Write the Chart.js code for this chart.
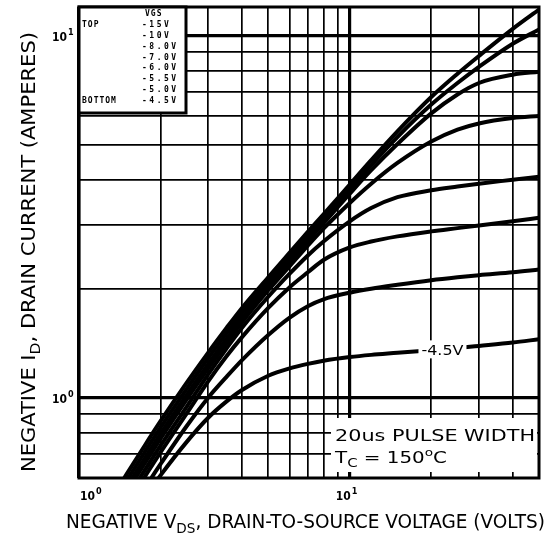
<!DOCTYPE html>
<html>
<head>
<meta charset="utf-8">
<script src="https://cdn.jsdelivr.net/npm/chart.js@4.4.1/dist/chart.umd.min.js"></script>
<style>
  html, body { margin: 0; padding: 0; background: #fff; }
  canvas { display: block; }
</style>
</head>
<body>
<canvas id="chart" width="551" height="538"></canvas>
<script>
// drain-to-source voltage (V), common grid for every curve
const vds = [1.3, 1.5, 1.75, 2, 2.5, 3, 3.5, 4, 5, 6, 7, 8, 10, 12, 15, 20, 25, 30, 40, 50];

// drain current (A), one array per gate voltage
const id15 = [0.518, 0.615, 0.738, 0.861, 1.10, 1.332, 1.555, 1.77, 2.15, 2.515, 2.87, 3.21, 3.88, 4.53, 5.44, 6.77, 7.85, 8.79, 10.44, 11.8];
const id10 = [0.497, 0.59, 0.708, 0.827, 1.058, 1.285, 1.503, 1.713, 2.087, 2.44, 2.785, 3.115, 3.765, 4.39, 5.25, 6.45, 7.4, 8.2, 9.5, 10.4];
const id8  = [0.478, 0.567, 0.68, 0.795, 1.018, 1.237, 1.452, 1.659, 2.03, 2.375, 2.71, 3.03, 3.66, 4.25, 5.02, 6.1, 6.88, 7.4, 7.8, 7.95];
const id7  = [0.462, 0.549, 0.659, 0.77, 0.99, 1.205, 1.413, 1.615, 1.98, 2.31, 2.63, 2.93, 3.45, 3.9, 4.45, 5.1, 5.5, 5.72, 5.92, 6.0];
const id6  = [0.443, 0.526, 0.631, 0.737, 0.945, 1.16, 1.365, 1.56, 1.9, 2.2, 2.47, 2.7, 3.07, 3.34, 3.58, 3.74, 3.83, 3.9, 4.0, 4.08];
const id55 = [0.425, 0.504, 0.605, 0.706, 0.905, 1.11, 1.3, 1.47, 1.77, 2.02, 2.22, 2.4, 2.6, 2.7, 2.79, 2.88, 2.94, 2.99, 3.07, 3.14];
const id5  = [0.395, 0.47, 0.563, 0.655, 0.835, 1.0, 1.14, 1.27, 1.49, 1.665, 1.79, 1.87, 1.95, 2.0, 2.05, 2.11, 2.15, 2.18, 2.22, 2.26];
const id45 = [0.38, 0.448, 0.53, 0.61, 0.755, 0.88, 0.975, 1.05, 1.15, 1.205, 1.24, 1.265, 1.295, 1.313, 1.33, 1.353, 1.372, 1.39, 1.42, 1.45];

const vgsLabels = ['-15V', '-10V', '-8.0V', '-7.0V', '-6.0V', '-5.5V', '-5.0V', '-4.5V'];
const series = [id15, id10, id8, id7, id6, id55, id5, id45];

const xTicks = [1, 2, 3, 4, 5, 6, 7, 8, 9, 10, 20, 30, 40, 50];
const yTicks = [0.6, 0.7, 0.8, 0.9, 1, 2, 3, 4, 5, 6, 7, 8, 9, 10, 12];
const xLabelTicks = [1, 10];
const yLabelTicks = [1, 10];

const FAM = '"DejaVu Sans Condensed", "DejaVu Sans", sans-serif';

// draws text pieces (with sub/superscripts) squeezed to a given width
function rich(ctx, parts, x, y, width, weight) {
  const pre = (weight || '') + ' ';
  let total = 0;
  const w = parts.map(p => {
    ctx.font = pre + p[1] + 'px ' + FAM;
    const m = ctx.measureText(p[0]).width;
    total += m;
    return m;
  });
  const k = width ? width / total : 1;
  ctx.save();
  ctx.translate(x, y);
  ctx.scale(k, 1);
  let cx = 0;
  parts.forEach((p, i) => {
    ctx.font = pre + p[1] + 'px ' + FAM;
    ctx.fillText(p[0], cx, p[2] || 0);
    cx += w[i];
  });
  ctx.restore();
  return total * k;
}

const decor = {
  id: 'decor',
  afterDatasetsDraw(chart) {
    const { ctx, chartArea: a, scales: { x, y } } = chart;
    ctx.save();
    ctx.fillStyle = '#000';
    ctx.strokeStyle = '#000';
    ctx.textBaseline = 'alphabetic';
    ctx.textAlign = 'left';

    // frame
    ctx.lineWidth = 3;
    ctx.strokeRect(a.left, a.top, a.right - a.left, a.bottom - a.top);

    // legend box
    const bw = 107, bh = 106;
    ctx.fillStyle = '#fff';
    ctx.fillRect(a.left, a.top, bw, bh);
    ctx.fillStyle = '#000';
    ctx.lineWidth = 3;
    ctx.strokeRect(a.left, a.top, bw, bh);
    ctx.font = 'bold 8px "DejaVu Sans Mono", monospace';
    ctx.letterSpacing = '1px';
    ctx.fillText('VGS', a.left + 66, a.top + 9);
    ctx.fillText('TOP', a.left + 3, a.top + 20);
    ctx.fillText('BOTTOM', a.left + 3, a.top + 96);
    ctx.letterSpacing = '2.5px';
    vgsLabels.forEach((t, i) => {
      ctx.fillText(t, a.left + 63, a.top + 20 + i * 10.85);
    });
    ctx.letterSpacing = '0px';

    // pulse width note
    ctx.fillStyle = '#fff';
    ctx.fillRect(331, 418, a.right - 333, a.bottom - 424);
    ctx.fillStyle = '#000';
    rich(ctx, [['20us PULSE WIDTH', 16]], 335, 441, 200);
    rich(ctx, [['T', 16], ['C', 12, 4], [' = 150', 16], ['o', 11, -7], ['C', 16]], 335, 463, 112);

    // curve label
    const lx = x.getPixelForValue(22), ly = y.getPixelForValue(1.36);
    ctx.fillStyle = '#fff';
    ctx.fillRect(lx - 24, ly - 9, 48, 18);
    ctx.fillStyle = '#000';
    rich(ctx, [['-4.5V', 14]], lx - 21, ly + 6, 42);

    // tick labels
    yLabelTicks.forEach(v => {
      const py = y.getPixelForValue(v);
      const w = rich(ctx, [['10', 12]], a.left - 27, py + 5, 15, 'bold');
      rich(ctx, [[String(Math.log10(v)), 9]], a.left - 27 + w + 1, py - 1, 0, 'bold');
    });
    xLabelTicks.forEach((v, i) => {
      const px = x.getPixelForValue(v);
      const sx = i === 0 ? px + 1 : px - 14;
      const w = rich(ctx, [['10', 12]], sx, 500, 15, 'bold');
      rich(ctx, [[String(Math.log10(v)), 9]], sx + w + 1, 494, 0, 'bold');
    });

    // axis titles
    rich(ctx, [['NEGATIVE V', 19], ['DS', 14, 5], [', DRAIN-TO-SOURCE VOLTAGE (VOLTS)', 19]], 66, 528, 479);
    ctx.save();
    ctx.translate(35, 472);
    ctx.rotate(-Math.PI / 2);
    rich(ctx, [['NEGATIVE I', 19], ['D', 14, 5], [', DRAIN CURRENT (AMPERES)', 19]], 0, 0, 440);
    ctx.restore();

    ctx.restore();
  }
};

const gridWidth = c => (c.tick && (c.tick.value === 1 || c.tick.value === 10)) ? 3.2 : 1.7;

new Chart(document.getElementById('chart'), {
  type: 'line',
  data: {
    datasets: series.map((s, i) => ({
      label: vgsLabels[i],
      data: s.map((v, j) => ({ x: vds[j], y: v })),
      borderColor: '#000',
      borderWidth: 4,
      pointRadius: 0,
      cubicInterpolationMode: 'monotone',
      fill: false,
      clip: 0
    }))
  },
  options: {
    responsive: false,
    animation: false,
    layout: { padding: { left: 79, top: 7, right: 12, bottom: 60 } },
    plugins: { legend: { display: false }, tooltip: { enabled: false } },
    scales: {
      x: {
        type: 'logarithmic', min: 1, max: 50,
        afterBuildTicks: s => { s.ticks = xTicks.map(v => ({ value: v })); },
        ticks: { display: false },
        grid: { color: '#000', lineWidth: gridWidth, drawTicks: false },
        border: { display: false }
      },
      y: {
        type: 'logarithmic', min: 0.6, max: 12,
        afterBuildTicks: s => { s.ticks = yTicks.map(v => ({ value: v })); },
        ticks: { display: false },
        grid: { color: '#000', lineWidth: gridWidth, drawTicks: false },
        border: { display: false }
      }
    }
  },
  plugins: [decor]
});
</script>
</body>
</html>
